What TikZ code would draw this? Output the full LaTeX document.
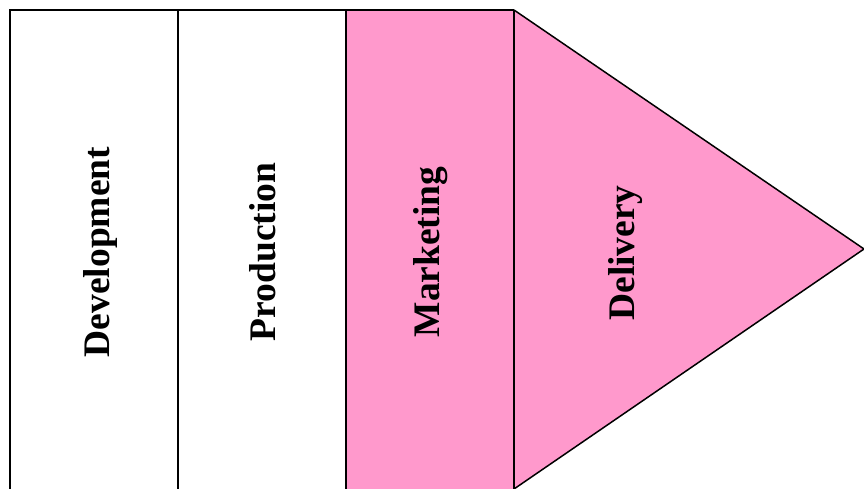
\documentclass[tikz,border=0pt]{standalone}
\usepackage{fontspec}
\setmainfont{Liberation Serif}
\definecolor{stagepink}{RGB}{255,153,204}

\begin{document}
\begin{tikzpicture}[x=1pt,y=1pt,
  stagelabel/.style={rotate=90,font=\fontsize{37.5}{44}\selectfont\bfseries}]
\useasboundingbox (0,0) rectangle (864,489);

% pink stages
\fill[stagepink] (346,-5) rectangle (514,479);
\fill[stagepink] (514,479) -- (864,240) -- (514,0) -- cycle;

% frame and dividers
\draw[line width=2pt] (10,-5) -- (10,479) -- (514,479);
\foreach \x in {178,346,514}
    \draw[line width=2pt] (\x,-5) -- (\x,479);
\draw[line width=1.5pt,line join=miter] (514,479) -- (864,240) -- (514,0);

% stage names
\node[stagelabel] (dev) at (100,237) {Development};
\node[stagelabel] (prod) at (263,237) {Production};
\node[stagelabel] (mkt) at (431,237) {Marketing};
\node[stagelabel] (dlv) at (626,236) {Delivery};

\end{tikzpicture}
\end{document}
